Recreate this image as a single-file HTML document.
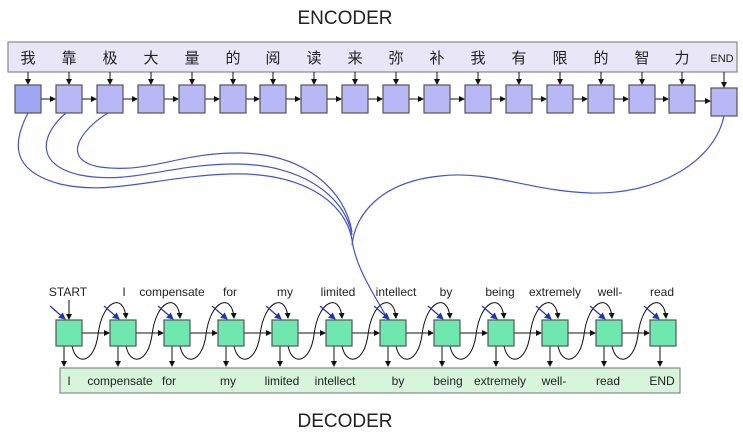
<!DOCTYPE html>
<html><head><meta charset="utf-8"><style>
body{margin:0;background:#fff}
svg{display:block}
text{font-family:"Liberation Sans","Noto Sans CJK SC",sans-serif;fill:#222}
</style></head><body>
<svg width="743" height="437" viewBox="0 0 743 437" xmlns="http://www.w3.org/2000/svg">
<defs>
<marker id="a" markerWidth="6" markerHeight="6" refX="5" refY="3" orient="auto" markerUnits="userSpaceOnUse"><path d="M0,0 L6,3 L0,6z" fill="#111"/></marker>
<marker id="b" markerWidth="7" markerHeight="7" refX="6" refY="3.5" orient="auto" markerUnits="userSpaceOnUse"><path d="M0,0 L7,3.5 L0,7z" fill="#2233bb"/></marker>
</defs>
<text x="345" y="24" font-size="19" text-anchor="middle">ENCODER</text>
<text x="345" y="427" font-size="19" text-anchor="middle">DECODER</text>
<rect x="8" y="42" width="729" height="30" fill="#e8e6f7" stroke="#888" stroke-width="1.2"/>
<g font-size="15" text-anchor="middle">
<text x="28" y="63">我</text><text x="69" y="63">靠</text><text x="110" y="63">极</text><text x="151" y="63">大</text><text x="192" y="63">量</text><text x="233" y="63">的</text><text x="273" y="63">阅</text><text x="314" y="63">读</text><text x="355" y="63">来</text><text x="396" y="63">弥</text><text x="437" y="63">补</text><text x="478" y="63">我</text><text x="519" y="63">有</text><text x="560" y="63">限</text><text x="601" y="63">的</text><text x="642" y="63">智</text><text x="682" y="63">力</text><text x="722" y="62" font-size="11">END</text>
</g>
<g stroke="#111" stroke-width="1" marker-end="url(#a)">
<path d="M28 72V84"/><path d="M69 72V84"/><path d="M110 72V84"/><path d="M151 72V84"/><path d="M192 72V84"/><path d="M233 72V84"/><path d="M273 72V84"/><path d="M314 72V84"/><path d="M355 72V84"/><path d="M396 72V84"/><path d="M437 72V84"/><path d="M478 72V84"/><path d="M519 72V84"/><path d="M560 72V84"/><path d="M601 72V84"/><path d="M642 72V84"/><path d="M682 72V84"/><path d="M724 72V87"/>
<path d="M41 99H55"/><path d="M82 99H96"/><path d="M123 99H137"/><path d="M164 99H178"/><path d="M205 99H219"/><path d="M246 99H259"/><path d="M286 99H300"/><path d="M327 99H341"/><path d="M368 99H382"/><path d="M409 99H423"/><path d="M450 99H464"/><path d="M491 99H505"/><path d="M532 99H546"/><path d="M573 99H587"/><path d="M614 99H628"/><path d="M655 99H668"/><path d="M695 101H710"/>
</g>
<g fill="#b8b8f6" stroke="#555" stroke-width="1.2">
<rect x="15" y="85" width="26" height="28" fill="#9fa6f2"/><rect x="56" y="85" width="26" height="28"/><rect x="97" y="85" width="26" height="28"/><rect x="138" y="85" width="26" height="28"/><rect x="179" y="85" width="26" height="28"/><rect x="220" y="85" width="26" height="28"/><rect x="260" y="85" width="26" height="28"/><rect x="301" y="85" width="26" height="28"/><rect x="342" y="85" width="26" height="28"/><rect x="383" y="85" width="26" height="28"/><rect x="424" y="85" width="26" height="28"/><rect x="465" y="85" width="26" height="28"/><rect x="506" y="85" width="26" height="28"/><rect x="547" y="85" width="26" height="28"/><rect x="588" y="85" width="26" height="28"/><rect x="629" y="85" width="26" height="28"/><rect x="669" y="85" width="26" height="28"/><rect x="711" y="88" width="26" height="28"/>
</g>
<g fill="none" stroke="#4455cc" stroke-width="1.2">
<path d="M28 113 C 14 140, 8 170, 60 184 C 110 196, 160 176, 230 174 C 300 172, 345 200, 352 240 C 356 270, 378 300, 388 320"/>
<path d="M66 113 C 40 135, 35 165, 80 175 C 130 185, 170 164, 235 164 C 300 164, 345 195, 352 235"/>
<path d="M108 113 C 80 130, 60 160, 100 167 C 150 174, 180 152, 240 153 C 305 154, 345 190, 352 232"/>
<path d="M724 116 C 715 160, 660 195, 590 193 C 530 191, 490 170, 440 176 C 380 182, 355 215, 352 245"/>
</g>
<g font-size="12" text-anchor="middle">
<text x="68" y="296">START</text><text x="124" y="296">I</text><text x="172" y="296">compensate</text><text x="230" y="296">for</text><text x="285" y="296">my</text><text x="338" y="296">limited</text><text x="396" y="296">intellect</text><text x="446" y="296">by</text><text x="500" y="296">being</text><text x="555" y="296">extremely</text><text x="610" y="296">well-</text><text x="662" y="296">read</text>
</g>
<rect x="60" y="368" width="620" height="25" fill="#d6f5da" stroke="#888" stroke-width="1.2"/>
<g font-size="12" text-anchor="middle">
<text x="69" y="385">I</text><text x="120" y="385">compensate</text><text x="169" y="385">for</text><text x="228" y="385">my</text><text x="282" y="385">limited</text><text x="335" y="385">intellect</text><text x="398" y="385">by</text><text x="448" y="385">being</text><text x="500" y="385">extremely</text><text x="554" y="385">well-</text><text x="608" y="385">read</text><text x="662" y="385">END</text>
</g>
<g stroke="#111" stroke-width="1" fill="none" marker-end="url(#a)">
<path d="M69 300V319"/>
<path d="M82 333H109"/><path d="M136 333H163"/><path d="M190 333H217"/><path d="M244 333H271"/><path d="M298 333H325"/><path d="M352 333H379"/><path d="M406 333H433"/><path d="M460 333H487"/><path d="M514 333H541"/><path d="M568 333H595"/><path d="M622 333H649"/>
<path d="M64 346V366"/><path d="M118 346V366"/><path d="M172 346V366"/><path d="M226 346V366"/><path d="M280 346V366"/><path d="M334 346V366"/><path d="M388 346V366"/><path d="M442 346V366"/><path d="M496 346V366"/><path d="M550 346V366"/><path d="M604 346V366"/><path d="M660 346V366"/>
<path d="M72 346 C76 366 94 364 98 335 C102 300 124 292 126 318"/>
<path d="M126 346 C130 366 148 364 152 335 C156 300 178 292 180 318"/>
<path d="M180 346 C184 366 202 364 206 335 C210 300 232 292 234 318"/>
<path d="M234 346 C238 366 256 364 260 335 C264 300 286 292 288 318"/>
<path d="M288 346 C292 366 310 364 314 335 C318 300 340 292 342 318"/>
<path d="M342 346 C346 366 364 364 368 335 C372 300 394 292 396 318"/>
<path d="M396 346 C400 366 418 364 422 335 C426 300 448 292 450 318"/>
<path d="M450 346 C454 366 472 364 476 335 C480 300 502 292 504 318"/>
<path d="M504 346 C508 366 526 364 530 335 C534 300 556 292 558 318"/>
<path d="M558 346 C562 366 580 364 584 335 C588 300 610 292 612 318"/>
<path d="M612 346 C616 366 634 364 638 335 C642 300 664 292 666 318"/>
</g>
<g stroke="#2233bb" stroke-width="1.2" marker-end="url(#b)">
<path d="M50 306L65 319"/><path d="M104 306L119 319"/><path d="M158 306L173 319"/><path d="M212 306L227 319"/><path d="M266 306L281 319"/><path d="M320 306L335 319"/><path d="M374 306L389 319"/><path d="M428 306L443 319"/><path d="M482 306L497 319"/><path d="M536 306L551 319"/><path d="M590 306L605 319"/><path d="M644 306L659 319"/>
</g>
<g fill="#6fe8b0" stroke="#555" stroke-width="1.2">
<rect x="56" y="320" width="26" height="26"/><rect x="110" y="320" width="26" height="26"/><rect x="164" y="320" width="26" height="26"/><rect x="218" y="320" width="26" height="26"/><rect x="272" y="320" width="26" height="26"/><rect x="326" y="320" width="26" height="26"/><rect x="380" y="320" width="26" height="26"/><rect x="434" y="320" width="26" height="26"/><rect x="488" y="320" width="26" height="26"/><rect x="542" y="320" width="26" height="26"/><rect x="596" y="320" width="26" height="26"/><rect x="650" y="320" width="26" height="26"/>
</g>
</svg>
</body></html>
